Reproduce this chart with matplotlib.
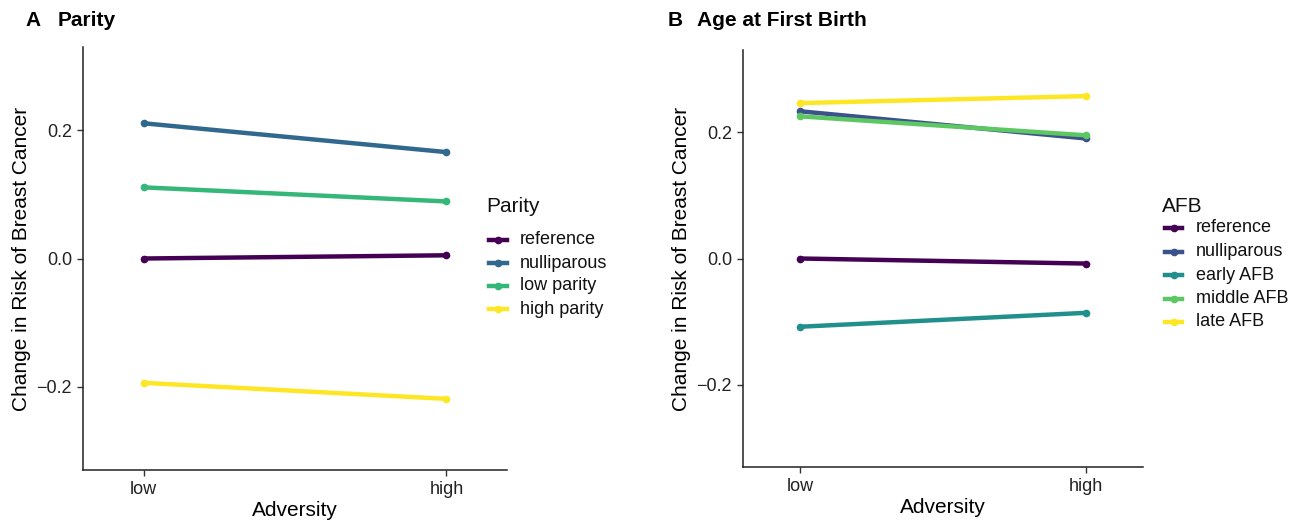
import matplotlib
matplotlib.use("Agg")
import matplotlib.pyplot as plt
from matplotlib.lines import Line2D

plt.rcParams['font.family'] = ['Liberation Sans', 'DejaVu Sans']

adversity = ["low", "high"]

parity_levels = ["reference", "nulliparous", "low parity", "high parity"]
parity_values = {
    "reference": [0.000, 0.005],
    "nulliparous": [0.211, 0.166],
    "low parity": [0.111, 0.089],
    "high parity": [-0.194, -0.219],
}
parity_colors = ["#440154", "#31688E", "#35B779", "#FDE725"]

afb_levels = ["reference", "nulliparous", "early AFB", "middle AFB", "late AFB"]
afb_values = {
    "reference": [0.000, -0.008],
    "nulliparous": [0.233, 0.190],
    "early AFB": [-0.108, -0.086],
    "middle AFB": [0.225, 0.195],
    "late AFB": [0.246, 0.257],
}
afb_colors = ["#440154", "#3B528B", "#21908C", "#5DC863", "#FDE725"]

yticks = [-0.2, 0.0, 0.2]
ytick_labels = ["\u22120.2", "0.0", "0.2"]

W, H = 1300, 521
fig = plt.figure(figsize=(W / 100, H / 100), dpi=100)


def px_axes(l, t, r, b):
    return fig.add_axes([l / W, 1 - b / H, (r - l) / W, (b - t) / H])


def draw_panel(ax, levels, values, colors):
    x = list(range(1, len(adversity) + 1))
    for lev, col in zip(levels, colors):
        ax.plot(x, values[lev], color=col, lw=3.2, marker='o', ms=4.5,
                solid_capstyle='round')
    ax.set_xlim(0.8, 2.2)
    ax.set_ylim(-0.33, 0.33)
    ax.set_xticks(x)
    ax.set_xticklabels(adversity)
    ax.set_yticks(yticks)
    ax.set_yticklabels(ytick_labels)
    for s in ["top", "right"]:
        ax.spines[s].set_visible(False)
    for s in ["left", "bottom"]:
        ax.spines[s].set_linewidth(1.1)
        ax.spines[s].set_color("#222222")
    ax.tick_params(axis='both', labelsize=13, length=4, width=1,
                   color="#333333", labelcolor="#222222", pad=4)
    ax.set_xlabel("Adversity", fontsize=15, labelpad=2)
    ax.set_ylabel("Change in Risk of Breast Cancer", fontsize=15, labelpad=4)


axA = px_axes(83, 47, 507, 470)
draw_panel(axA, parity_levels, parity_values, parity_colors)
axB = px_axes(743, 50, 1143, 467)
draw_panel(axB, afb_levels, afb_values, afb_colors)


def add_legend(title, levels, colors, title_x, title_y, first_y, step,
               key_x0, key_x1, text_x):
    fig.text(title_x / W, 1 - title_y / H, title, fontsize=15,
             va='center', ha='left', color="#111111")
    for i, (lev, col) in enumerate(zip(levels, colors)):
        y = first_y + i * step
        fig.add_artist(Line2D([key_x0 / W, key_x1 / W], [1 - y / H, 1 - y / H],
                              color=col, lw=3.2, transform=fig.transFigure))
        fig.add_artist(Line2D([(key_x0 + key_x1) / 2 / W], [1 - y / H],
                              color=col, marker='o', ms=4.5, lw=0,
                              transform=fig.transFigure))
        fig.text(text_x / W, 1 - y / H, lev, fontsize=13, va='center',
                 ha='left', color="#111111")


add_legend("Parity", parity_levels, parity_colors, 486, 206, 240, 23,
           489, 507, 520)
add_legend("AFB", afb_levels, afb_colors, 1162, 206, 228, 23.5,
           1165, 1182, 1196)

fig.text(25 / W, 1 - 21 / H, "A", fontsize=15, fontweight='bold', va='center')
fig.text(58 / W, 1 - 21 / H, "Parity", fontsize=15, fontweight='bold', va='center')
fig.text(668 / W, 1 - 21 / H, "B", fontsize=15, fontweight='bold', va='center')
fig.text(697 / W, 1 - 21 / H, "Age at First Birth", fontsize=15, fontweight='bold', va='center')

fig.savefig("out.png", dpi=100)
